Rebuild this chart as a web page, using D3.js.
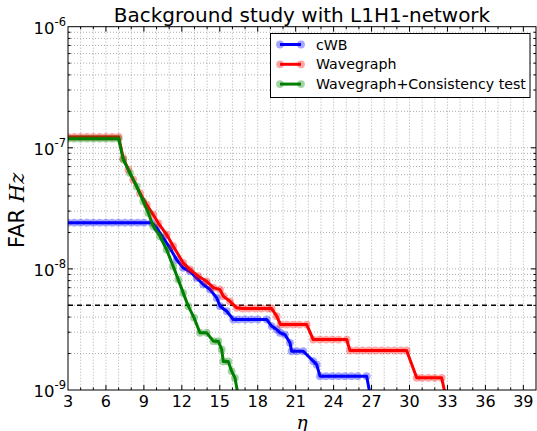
<!DOCTYPE html>
<html>
<head>
<meta charset="utf-8">
<script src="https://cdn.jsdelivr.net/npm/d3@7"></script>
<style>
  html, body { margin: 0; padding: 0; background: #fff; }
  svg { display: block; font-family: "DejaVu Sans", sans-serif; }
</style>
</head>
<body>
<svg id="chart" width="537" height="431"></svg>
<script>
// Detection threshold (false-alarm rate)
const threshold = 5e-9;

// cWB
const etaCwb = [3.0, 3.5, 4.0, 4.5, 5.0, 5.5, 6.0, 6.5, 7.0, 7.5, 8.0, 8.5, 9.0, 9.6,
  10.01, 10.53, 11.06, 11.59, 12.11, 12.64, 13.17, 13.7, 14.23, 14.76, 15.02, 15.55, 16.07,
  16.5, 17.0, 17.5, 18.0, 18.71, 19.1, 19.5, 19.76, 20.15, 20.55, 20.68, 21.1, 21.6,
  22.39, 22.66, 22.92, 23.4, 23.9, 24.4, 24.9, 25.4, 25.9, 26.61, 26.9];
const farCwb = [2.41e-8, 2.41e-8, 2.41e-8, 2.41e-8, 2.41e-8, 2.41e-8, 2.41e-8, 2.41e-8, 2.41e-8, 2.41e-8, 2.41e-8, 2.41e-8, 2.41e-8, 2.41e-8,
  2.18e-8, 1.8e-8, 1.49e-8, 1.19e-8, 1.02e-8, 9.55e-9, 8.43e-9, 7.43e-9, 6.75e-9, 5.76e-9, 4.92e-9, 4.47e-9, 3.82e-9,
  3.82e-9, 3.82e-9, 3.82e-9, 3.82e-9, 3.82e-9, 3.37e-9, 3.16e-9, 2.97e-9, 2.87e-9, 2.45e-9, 2.09e-9, 2.09e-9, 2.09e-9,
  1.73e-9, 1.62e-9, 1.3e-9, 1.3e-9, 1.3e-9, 1.3e-9, 1.3e-9, 1.3e-9, 1.3e-9, 1.3e-9, 9e-10];

// Wavegraph
const etaWg = [3.0, 3.5, 4.0, 4.5, 5.0, 5.5, 6.0, 6.5, 7.0,
  7.37, 7.77, 8.16, 8.69, 9.22, 9.74, 10.14, 10.8, 11.32, 12.11, 12.64, 13.3, 13.96, 14.49, 15.02, 15.28, 15.81, 16.34,
  16.8, 17.3, 17.8, 18.3, 18.8, 19.1, 19.5, 19.8, 20.3, 20.8, 21.3, 21.87,
  22.39, 22.9, 23.4, 23.9, 24.4, 25.03, 25.29, 25.8, 26.3, 26.8, 27.3, 27.8, 28.3, 28.8, 29.3, 29.77,
  30.57, 31.0, 31.5, 32.0, 32.54, 32.9];
const farWg = [1.23e-7, 1.23e-7, 1.23e-7, 1.23e-7, 1.23e-7, 1.23e-7, 1.23e-7, 1.23e-7, 1.23e-7,
  8.2e-8, 6.6e-8, 5.45e-8, 4.23e-8, 3.39e-8, 2.8e-8, 2.39e-8, 1.92e-8, 1.54e-8, 1.12e-8, 9.9e-9, 8.7e-9, 7.9e-9, 7.0e-9, 6.75e-9, 5.95e-9, 5.4e-9, 4.77e-9,
  4.71e-9, 4.71e-9, 4.71e-9, 4.71e-9, 4.71e-9, 4.71e-9, 4.07e-9, 3.47e-9, 3.47e-9, 3.47e-9, 3.47e-9, 3.47e-9,
  2.61e-9, 2.61e-9, 2.61e-9, 2.61e-9, 2.61e-9, 2.61e-9, 2.12e-9, 2.12e-9, 2.12e-9, 2.12e-9, 2.12e-9, 2.12e-9, 2.12e-9, 2.12e-9, 2.12e-9, 2.12e-9,
  1.26e-9, 1.26e-9, 1.26e-9, 1.26e-9, 1.26e-9, 8.5e-10];

// Wavegraph + consistency test
const etaWgc = [3.0, 3.5, 4.0, 4.5, 5.0, 5.5, 6.0, 6.5, 7.0,
  7.37, 7.9, 8.43, 8.95, 9.35, 9.74, 10.27, 10.8, 11.32, 11.72, 12.11, 12.51, 12.96, 13.43, 13.96,
  14.49, 14.88, 15.15, 15.28, 15.67, 15.94, 16.2, 16.45];
const farWgc = [1.19e-7, 1.19e-7, 1.19e-7, 1.19e-7, 1.19e-7, 1.19e-7, 1.19e-7, 1.19e-7, 1.19e-7,
  8.0e-8, 6.18e-8, 4.8e-8, 3.61e-8, 2.9e-8, 2.25e-8, 1.86e-8, 1.44e-8, 1.05e-8, 8.16e-9, 6.34e-9, 4.92e-9, 3.96e-9, 2.97e-9, 2.97e-9,
  2.53e-9, 2.53e-9, 2.16e-9, 1.72e-9, 1.72e-9, 1.43e-9, 1.26e-9, 9e-10];

const seriesNames = ["cWB", "Wavegraph", "Wavegraph+Consistency test"];
const seriesColors = ["#0000ff", "#ff0000", "#008000"];
const xTicks = [3, 6, 9, 12, 15, 18, 21, 24, 27, 30, 33, 36, 39];
const yTickExponents = [-9, -8, -7, -6];

const series = [
  { name: seriesNames[0], color: seriesColors[0], eta: etaCwb, far: farCwb },
  { name: seriesNames[1], color: seriesColors[1], eta: etaWg, far: farWg },
  { name: seriesNames[2], color: seriesColors[2], eta: etaWgc, far: farWgc }
];

const svg = d3.select("#chart");
const m = { left: 68, right: 536, top: 26.7, bottom: 390 };

const x = d3.scaleLinear().domain([3, 40]).range([m.left, m.right]);
const y = d3.scaleLog().domain([1e-9, 1e-6]).range([m.bottom, m.top]);

svg.append("defs").append("clipPath").attr("id", "plotclip")
  .append("rect").attr("x", m.left).attr("y", m.top)
  .attr("width", m.right - m.left).attr("height", m.bottom - m.top);

// Grid: every integer in eta, every 1..9 x 10^k in FAR
const gx = d3.range(4, 40);
const gy = [];
for (let e = -9; e < -6; e++) for (let k = 1; k <= 9; k++) gy.push(k * Math.pow(10, e));
const grid = svg.append("g").attr("stroke", "#9a9a9a").attr("stroke-width", 0.8)
  .attr("stroke-dasharray", "1,2");
grid.selectAll("line.gx").data(gx).join("line")
  .attr("x1", d => x(d)).attr("x2", d => x(d)).attr("y1", m.top).attr("y2", m.bottom);
grid.selectAll("line.gy").data(gy.filter(v => v > 1e-9)).join("line")
  .attr("y1", d => y(d)).attr("y2", d => y(d)).attr("x1", m.left).attr("x2", m.right);

// Threshold line
svg.append("line")
  .attr("x1", m.left).attr("x2", m.right)
  .attr("y1", y(threshold)).attr("y2", y(threshold))
  .attr("stroke", "#000").attr("stroke-width", 1.5).attr("stroke-dasharray", "5,4");

// Series
const plot = svg.append("g").attr("clip-path", "url(#plotclip)");
const line = d3.line().x(d => x(d[0])).y(d => y(d[1]));
series.forEach(s => {
  const pts = s.eta.map((e, i) => [e, s.far[i]]);
  plot.append("path").datum(pts).attr("d", line)
    .attr("fill", "none").attr("stroke", s.color).attr("stroke-width", 3)
    .attr("stroke-linejoin", "round");
  plot.append("g").selectAll("circle").data(pts).join("circle")
    .attr("cx", d => x(d[0])).attr("cy", d => y(d[1])).attr("r", 3.9)
    .attr("fill", s.color).attr("fill-opacity", 0.35).attr("stroke", "none");
});

// Frame
svg.append("rect").attr("x", m.left).attr("y", m.top)
  .attr("width", m.right - m.left).attr("height", m.bottom - m.top)
  .attr("fill", "none").attr("stroke", "#000").attr("stroke-width", 1);

// Ticks (inside, on all four sides)
const ticks = svg.append("g").attr("stroke", "#000").attr("stroke-width", 1);
d3.range(4, 40).forEach(v => {
  const major = xTicks.includes(v);
  const L = major ? 5 : 2.5;
  ticks.append("line").attr("x1", x(v)).attr("x2", x(v)).attr("y1", m.bottom).attr("y2", m.bottom - L);
  ticks.append("line").attr("x1", x(v)).attr("x2", x(v)).attr("y1", m.top).attr("y2", m.top + L);
});
gy.filter(v => v > 1e-9).forEach(v => {
  const major = Math.abs(Math.log10(v) - Math.round(Math.log10(v))) < 1e-9;
  const L = major ? 5 : 2.5;
  ticks.append("line").attr("y1", y(v)).attr("y2", y(v)).attr("x1", m.left).attr("x2", m.left + L);
  ticks.append("line").attr("y1", y(v)).attr("y2", y(v)).attr("x1", m.right).attr("x2", m.right - L);
});

// X tick labels
svg.append("g").selectAll("text").data(xTicks).join("text")
  .attr("x", d => x(d)).attr("y", 407).attr("text-anchor", "middle")
  .attr("font-size", 16).attr("fill", "#000").text(d => d);

// Y tick labels 10^k
const yl = svg.append("g").selectAll("text").data(yTickExponents).join("text")
  .attr("x", 66).attr("y", d => y(Math.pow(10, d)) + 7)
  .attr("text-anchor", "end").attr("font-size", 16.5).attr("fill", "#000");
yl.append("tspan").text("10");
yl.append("tspan").attr("dy", -8).attr("font-size", 11.5).text(d => "-" + Math.abs(d));

// Title
svg.append("text").attr("x", (m.left + m.right) / 2).attr("y", 22)
  .attr("text-anchor", "middle").attr("font-size", 20).attr("fill", "#000")
  .text("Background study with L1H1-network");

// Axis labels
const ylab = svg.append("text").attr("transform", `translate(24,${(m.top + m.bottom) / 2 + 2}) rotate(-90)`)
  .attr("text-anchor", "middle").attr("font-size", 21).attr("fill", "#000");
ylab.append("tspan").text("FAR ");
ylab.append("tspan").attr("font-family", "DejaVu Serif").attr("font-style", "italic").text("Hz");

svg.append("text").attr("x", (m.left + m.right) / 2).attr("y", 428.5)
  .attr("text-anchor", "middle").attr("font-size", 18.5).attr("font-family", "DejaVu Serif")
  .attr("font-style", "italic").attr("fill", "#000").text("\u03b7");

// Legend
const lg = svg.append("g");
lg.append("rect").attr("x", 270.5).attr("y", 33.5).attr("width", 259.5).attr("height", 64)
  .attr("fill", "#fff").attr("stroke", "#000").attr("stroke-width", 1);
series.forEach((s, i) => {
  const ly = 44.5 + i * 19.8;
  lg.append("line").attr("x1", 280).attr("x2", 301).attr("y1", ly).attr("y2", ly)
    .attr("stroke", s.color).attr("stroke-width", 3);
  [280, 301].forEach(cx => lg.append("circle").attr("cx", cx).attr("cy", ly).attr("r", 3.9)
    .attr("fill", s.color).attr("fill-opacity", 0.35));
  lg.append("text").attr("x", 316).attr("y", ly + 5).attr("font-size", 14.2).attr("fill", "#000").text(s.name);
});
</script>
</body>
</html>
